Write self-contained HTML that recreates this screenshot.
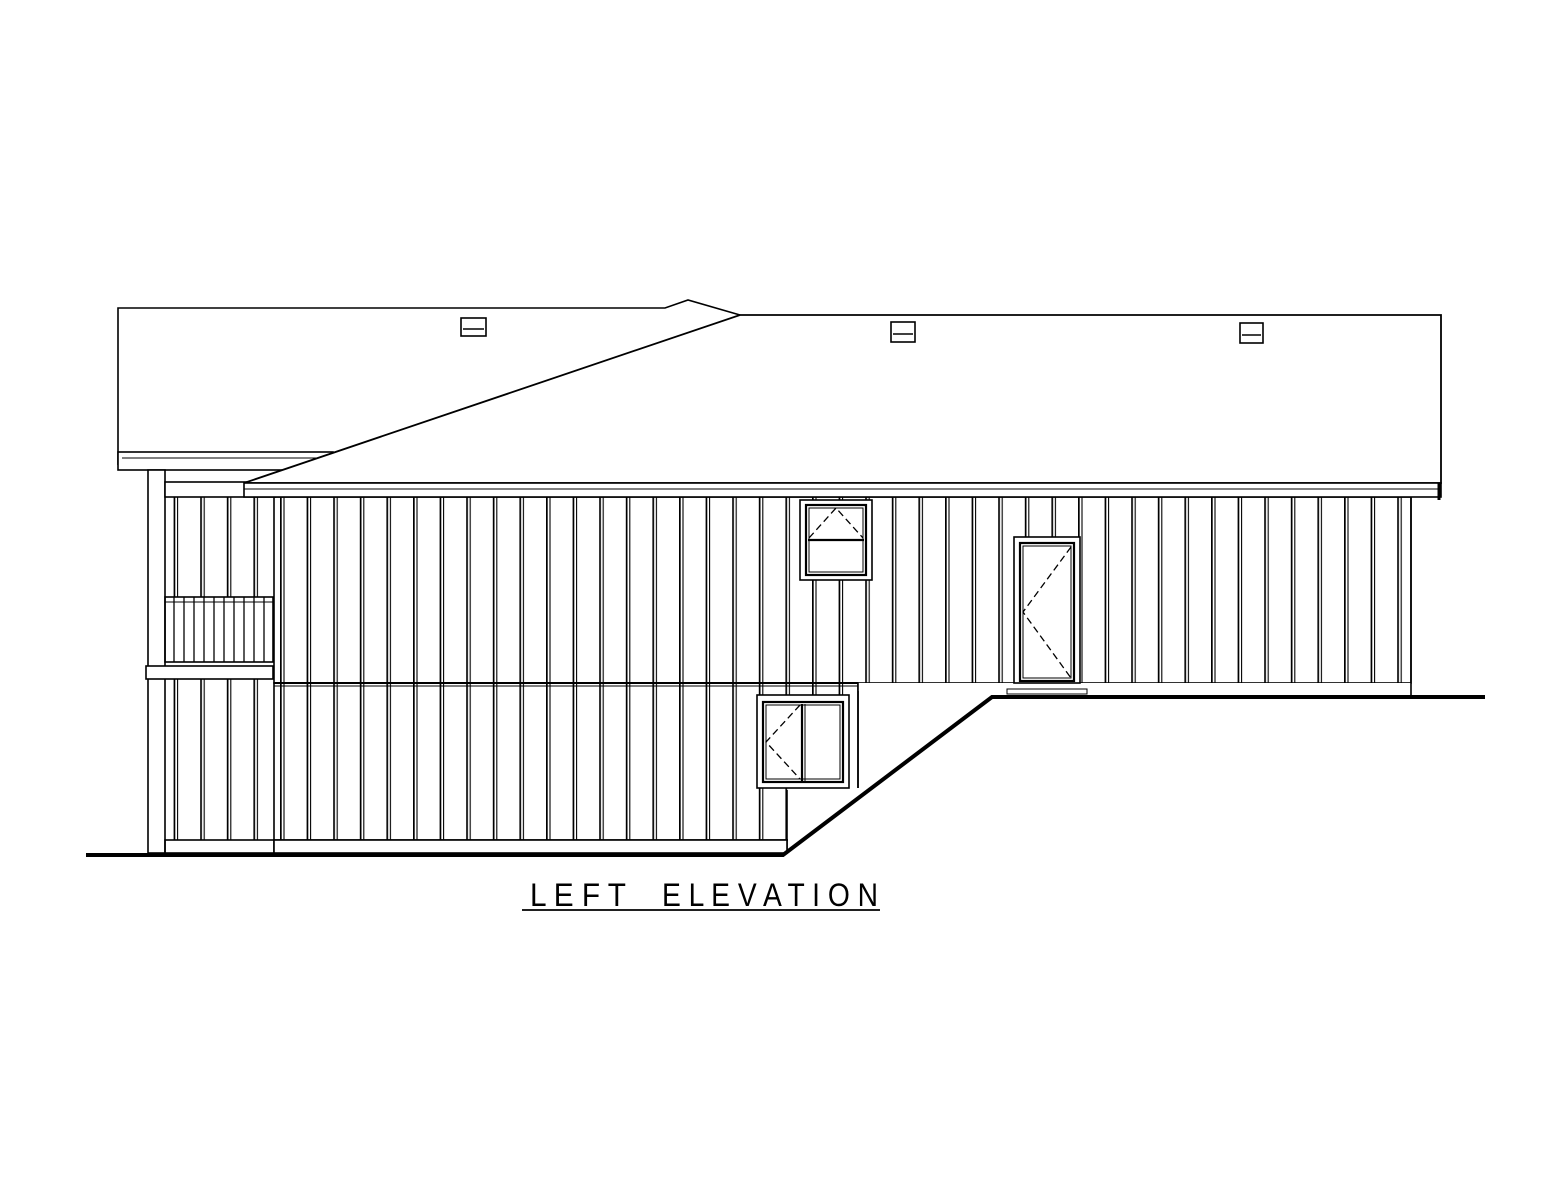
<!DOCTYPE html>
<html><head><meta charset="utf-8"><style>html,body{margin:0;padding:0;background:#fff}svg{display:block}</style></head>
<body>
<svg width="1553" height="1200" viewBox="0 0 1553 1200" xmlns="http://www.w3.org/2000/svg">
<defs>
<pattern id="bat" x="280" y="0" width="26.6" height="10" patternUnits="userSpaceOnUse">
<line x1="0.8" y1="0" x2="0.8" y2="10" stroke="#000" stroke-width="1.8"/>
<line x1="4" y1="0" x2="4" y2="10" stroke="#000" stroke-width="1.1"/>
</pattern>
<pattern id="rail" x="165" y="0" width="10" height="10" patternUnits="userSpaceOnUse">
<line x1="9" y1="0" x2="9" y2="10" stroke="#000" stroke-width="1.3"/>
</pattern>
</defs>
<g fill="none" stroke="#000" stroke-width="1.6">
<polyline points="118,465 118,308 665,308 688,300 740,315"/>
<rect x="118" y="452" width="215" height="18" fill="#fff"/>
<line x1="122" y1="458" x2="330" y2="458" stroke-width="1"/>
<rect x="148" y="470" width="17" height="383" fill="#fff"/>
<rect x="165" y="482" width="110" height="15" fill="#fff"/>
<rect x="165" y="497" width="109" height="100" fill="url(#bat)" stroke="none"/>
<rect x="165" y="679" width="109" height="161" fill="url(#bat)" stroke="none"/>
<rect x="165" y="597" width="108" height="65" fill="url(#rail)"/>
<line x1="165" y1="602" x2="273" y2="602" stroke-width="1"/>
<rect x="146" y="666" width="127" height="13" fill="#fff"/>
<rect x="165" y="840" width="109" height="13"/>
<rect x="274" y="497" width="1137" height="186" fill="url(#bat)"/>
<rect x="274" y="683" width="584" height="157" fill="url(#bat)"/>
<rect x="858" y="683" width="553" height="8" fill="#fff" stroke="none"/>
<line x1="1411" y1="497" x2="1411" y2="697"/>
<line x1="274" y1="683" x2="858" y2="683" stroke-width="2"/>
<line x1="274" y1="686" x2="858" y2="686" stroke-width="1"/>
<line x1="858" y1="683" x2="858" y2="795"/>
<rect x="788" y="788" width="72" height="70" fill="#fff" stroke="none"/>
<line x1="787" y1="790" x2="787" y2="853"/>
<rect x="274" y="840" width="513" height="13" fill="#fff"/>
<polygon points="244,483 740,315 1441,315 1441,483" fill="#fff" stroke-width="1.8"/>
<rect x="244" y="483" width="1197" height="14" fill="#fff"/>
<line x1="244" y1="489" x2="1441" y2="489" stroke-width="1"/>
<line x1="1439" y1="483" x2="1439" y2="500" stroke-width="3"/>
<rect x="461" y="318" width="25" height="18" fill="#fff"/><line x1="463" y1="329" x2="484" y2="329"/>
<rect x="891" y="322" width="24" height="20" fill="#fff"/><line x1="893" y1="334" x2="913" y2="334"/>
<rect x="1240" y="323" width="23" height="20" fill="#fff"/><line x1="1242" y1="335" x2="1261" y2="335"/>
<rect x="800" y="500" width="72" height="80" fill="#fff"/>
<rect x="806" y="505" width="60" height="70" stroke-width="2.2"/>
<rect x="809" y="508" width="54" height="64" stroke-width="1"/>
<line x1="808" y1="540" x2="864" y2="540" stroke-width="2.2"/>
<polyline points="809,538 836,508 863,538" stroke-width="1.3" stroke-dasharray="7,4"/>
<rect x="1014" y="537" width="66" height="146" fill="#fff"/>
<rect x="1020" y="543" width="54" height="138" stroke-width="2.2"/>
<rect x="1023" y="546" width="48" height="132" stroke-width="1"/>
<polyline points="1071,547 1023,612 1071,678" stroke-width="1.3" stroke-dasharray="7,4"/>
<rect x="1007" y="689" width="80" height="5" stroke-width="1"/>
<rect x="757" y="695" width="92" height="93" fill="#fff"/>
<rect x="763" y="702" width="80" height="80" stroke-width="2.2"/>
<rect x="766" y="705" width="74" height="74" stroke-width="1"/>
<line x1="802" y1="704" x2="802" y2="781" stroke-width="2.2"/>
<line x1="805" y1="704" x2="805" y2="781" stroke-width="1"/>
<polyline points="800,705 766,742 800,779" stroke-width="1.3" stroke-dasharray="7,4"/>
<polyline points="86,855 783,855 992,697 1485,697" stroke-width="4"/>
<line x1="522" y1="910" x2="880" y2="910" stroke-width="1.8"/>
</g>
<g font-family="Liberation Sans, sans-serif" font-size="32" fill="#000">
<text x="530" y="906" textLength="96" lengthAdjust="spacingAndGlyphs">L E F T</text>
<text x="662" y="906" textLength="216" lengthAdjust="spacingAndGlyphs">E L E V A T I O N</text>
</g>
</svg>
</body></html>
